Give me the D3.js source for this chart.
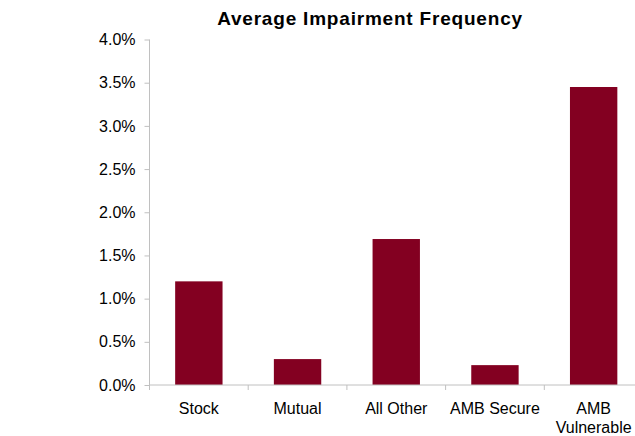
<!DOCTYPE html>
<html>
<head>
<meta charset="utf-8">
<script src="https://cdn.jsdelivr.net/npm/d3@7"></script>
<style>
  html, body { margin: 0; padding: 0; background: #fff; }
  text { font-family: "Liberation Sans", Arial, sans-serif; fill: #000; }
</style>
</head>
<body>
<svg id="chart" width="635" height="436"></svg>
<script>
// Impairment frequency by company group
const categories = ["Stock", "Mutual", "All Other", "AMB Secure", "AMB Vulnerable"];
const values = [0.0120, 0.0030, 0.0169, 0.0023, 0.0345];
const yTicks = [0, 0.005, 0.01, 0.015, 0.02, 0.025, 0.03, 0.035, 0.04];

const svg = d3.select("#chart");
const plotLeft = 149.5, plotRight = 643, plotTop = 39.5, plotBottom = 385;

const x = d3.scaleBand().domain(categories).range([plotLeft, plotRight]).paddingInner(0.52).paddingOuter(0.26);
const y = d3.scaleLinear().domain([0, 0.04]).range([plotBottom, plotTop]);

// Title
svg.append("text")
  .attr("x", 370).attr("y", 24.5)
  .attr("text-anchor", "middle")
  .style("font-size", "19px").style("font-weight", "bold")
  .style("letter-spacing", "0.8px")
  .text("Average Impairment Frequency");

// Bars
svg.append("g").selectAll("rect")
  .data(categories)
  .join("rect")
  .attr("x", d => x(d))
  .attr("width", x.bandwidth())
  .attr("y", (d, i) => y(values[i]))
  .attr("height", (d, i) => y(0) - y(values[i]))
  .attr("fill", "#830021");

// Y axis
const yAxis = svg.append("g")
  .attr("transform", `translate(${plotLeft},0)`)
  .call(d3.axisLeft(y).tickValues(yTicks).tickFormat(d3.format(".1%")).tickSize(5).tickPadding(9));
yAxis.select(".domain").attr("stroke", "#c0c0c0").attr("d", `M0,${plotTop}V${plotBottom}`);
yAxis.selectAll(".tick line").attr("stroke", "#c0c0c0");
yAxis.selectAll(".tick text").style("font-size", "16px").attr("font-family", null);

// X axis: baseline with tick marks at band boundaries
const step = x.step();
const boundaries = d3.range(categories.length + 1).map(i => plotLeft + i * step);
const xg = svg.append("g");
xg.append("line")
  .attr("x1", plotLeft).attr("x2", plotRight)
  .attr("y1", plotBottom).attr("y2", plotBottom)
  .attr("stroke", "#c0c0c0");
xg.selectAll("line.tick")
  .data(boundaries)
  .join("line")
  .attr("class", "tick")
  .attr("x1", d => d).attr("x2", d => d)
  .attr("y1", plotBottom).attr("y2", plotBottom + 5)
  .attr("stroke", "#c0c0c0");

// Category labels, wrapped onto two lines where needed
const labelLines = { "AMB Vulnerable": ["AMB", "Vulnerable"] };
xg.selectAll("text")
  .data(categories)
  .join("text")
  .attr("text-anchor", "middle")
  .style("font-size", "16px")
  .each(function (d) {
    const lines = labelLines[d] || [d];
    const cx = x(d) + x.bandwidth() / 2;
    d3.select(this).selectAll("tspan")
      .data(lines)
      .join("tspan")
      .attr("x", cx)
      .attr("y", (l, i) => 414 + i * 19)
      .text(l => l);
  });
</script>
</body>
</html>
